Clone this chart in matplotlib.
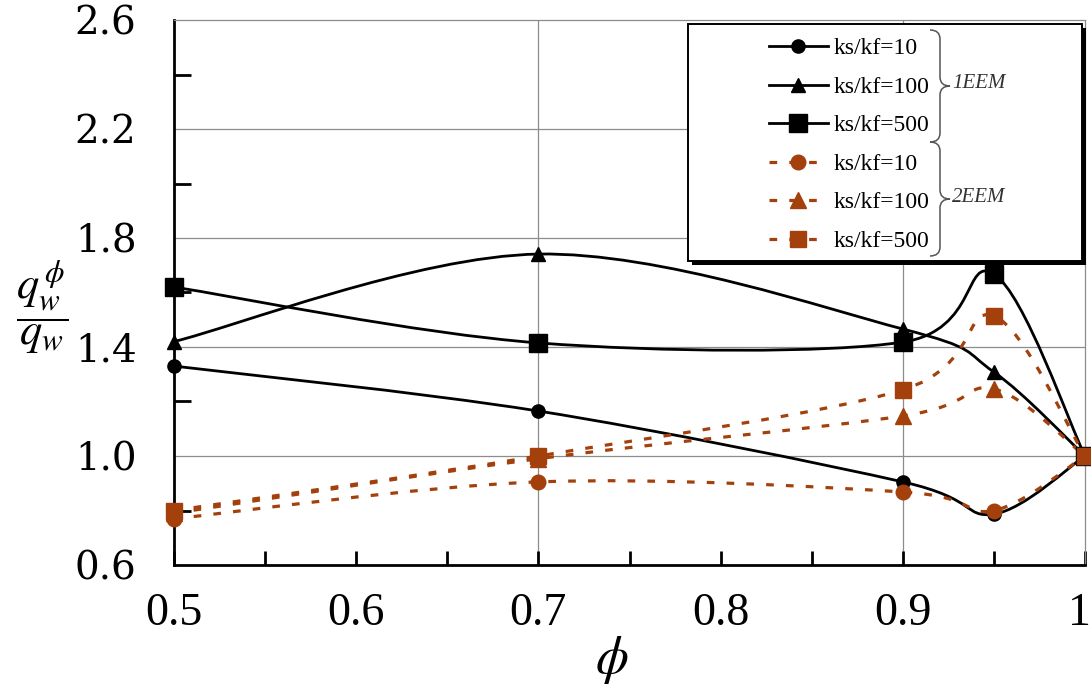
import numpy as np
import matplotlib
matplotlib.use("Agg")
import matplotlib.pyplot as plt
from matplotlib.path import Path
from matplotlib.patches import PathPatch, Rectangle
from matplotlib.lines import Line2D
from matplotlib.ticker import MultipleLocator, FixedLocator
from matplotlib.transforms import ScaledTranslation

# ---------------- data ----------------
phi = [0.5, 0.7, 0.9, 0.95, 1.0]
eem1_k10 = [1.33, 1.165, 0.905, 0.787, 1.0]
eem1_k100 = [1.42, 1.741, 1.466, 1.308, 1.0]
eem1_k500 = [1.62, 1.415, 1.418, 1.668, 1.0]
eem2_k10 = [0.77, 0.905, 0.868, 0.80, 1.0]
eem2_k100 = [0.79, 0.99, 1.147, 1.246, 1.0]
eem2_k500 = [0.80, 1.0, 1.243, 1.514, 1.0]
labels = ["ks/kf=10", "ks/kf=100", "ks/kf=500"]
group_labels = ["1EEM", "2EEM"]
x_ticks = [0.5, 0.6, 0.7, 0.8, 0.9, 1.0]
x_ticklabels = ["0.5", "0.6", "0.7", "0.8", "0.9", "1"]
y_ticks = [0.6, 1.0, 1.4, 1.8, 2.2, 2.6]
y_ticklabels = ["0.6", "1.0", "1.4", "1.8", "2.2", "2.6"]
x_grid = [0.7, 0.9]

W, H = 1091, 691
BROWN = "#a3400c"
plt.rcParams["mathtext.fontset"] = "stix"

fig = plt.figure(figsize=(W / 100, H / 100), dpi=100)
ax = fig.add_axes([174 / W, 1 - 565 / H, (1085 - 174) / W, (565 - 20) / H])
ax.set_xlim(0.5, 1.0)
ax.set_ylim(0.6, 2.6)


def smooth_path(xs, ys):
    """Excel-style smoothed line: cubic Bezier through the points."""
    P = np.column_stack([xs, ys]).astype(float)
    n = len(P)
    verts = [P[0]]
    codes = [Path.MOVETO]
    for i in range(n - 1):
        p_prev = P[i - 1] if i > 0 else P[i]
        p_next2 = P[i + 2] if i + 2 < n else P[i + 1]
        c1 = P[i] + (P[i + 1] - p_prev) / 6.0
        c2 = P[i + 1] - (p_next2 - P[i]) / 6.0
        verts += [c1, c2, P[i + 1]]
        codes += [Path.CURVE4] * 3
    return Path(verts, codes)


LW = 2.0
LWB = 2.3
dash = (0, (2.4, 3.8))
series = [
    (eem1_k10, "k", "o", 9.5, "-", LW),
    (eem1_k100, "k", "^", 10, "-", LW),
    (eem1_k500, "k", "s", 13, "-", LW),
    (eem2_k10, BROWN, "o", 10.5, dash, LWB),
    (eem2_k100, BROWN, "^", 11, dash, LWB),
    (eem2_k500, BROWN, "s", 11, dash, LWB),
]

handles = []
for ys, col, mk, ms, ls, lw in series:
    patch = PathPatch(smooth_path(phi, ys), fill=False, edgecolor=col,
                      linewidth=lw, linestyle=ls, zorder=3, clip_on=False)
    ax.add_patch(patch)
    ax.plot(phi, ys, linestyle="none", marker=mk, markersize=ms, color=col,
            markeredgecolor=col, zorder=4, clip_on=False)
    handles.append(Line2D([], [], color=col, linewidth=lw, linestyle=ls,
                          marker=mk, markersize=ms, markeredgecolor=col))

# grid
for yv in y_ticks[1:-1]:
    ax.axhline(yv, color="#8c8c8c", linewidth=0.9, zorder=1)
for xv in x_grid:
    ax.axvline(xv, color="#8c8c8c", linewidth=0.9, zorder=1)

# spines
for s in ["left", "bottom"]:
    ax.spines[s].set_linewidth(2.0)
    ax.spines[s].set_color("black")
for s in ["top", "right"]:
    ax.spines[s].set_linewidth(0.9)
    ax.spines[s].set_color("#8c8c8c")

# ticks
ax.xaxis.set_major_locator(FixedLocator(x_ticks))
ax.xaxis.set_minor_locator(MultipleLocator(0.05))
ax.set_xticklabels(x_ticklabels, fontfamily="Liberation Serif", fontsize=33)
ax.yaxis.set_major_locator(FixedLocator(y_ticks))
ax.yaxis.set_minor_locator(MultipleLocator(0.2))
ax.set_yticklabels(y_ticklabels, fontfamily="DejaVu Serif", fontsize=28)
ax.tick_params(axis="x", which="both", direction="in", length=10, width=2.0,
               pad=20, top=False)
ax.tick_params(axis="y", which="major", direction="in", length=0, pad=27)
ax.tick_params(axis="y", which="minor", direction="in", length=12, width=2.0)
last = ax.get_xticklabels()[-1]
last.set_transform(last.get_transform() +
                   ScaledTranslation(-6 / 100, 0, fig.dpi_scale_trans))

# axis labels
fig.text(42 / W, 1 - 307 / H, r"$\dfrac{q_w^{\,\phi}}{q_w}$", fontsize=32,
         ha="center", va="center")
fig.text(612 / W, 1 - 660 / H, r"$\phi$", fontsize=38, ha="center",
         va="center")

# legend box with shadow
shadow = Rectangle((692 / W, 1 - 265 / H), (1086 - 692) / W, (265 - 28) / H,
                   transform=fig.transFigure, facecolor="black",
                   edgecolor="none", zorder=3)
box = Rectangle((688 / W, 1 - 261 / H), (1082 - 688) / W, (261 - 24) / H,
                transform=fig.transFigure, facecolor="white",
                edgecolor="black", linewidth=1.4, zorder=3.5)
fig.patches.extend([shadow, box])

leg = fig.legend(handles, labels + labels, loc="upper left",
                 bbox_to_anchor=(757 / W, 1 - 26 / H), frameon=False,
                 borderpad=0, handlelength=2.5, handletextpad=0.25,
                 labelspacing=0.72,
                 prop={"family": "Liberation Serif", "size": 17})
leg.set_zorder(5)


def brace(x0, ytop, ybot, w):
    ym = (ytop + ybot) / 2.0
    xm = x0 + w * 0.5
    r = 9
    v = [(x0, ytop),
         (xm, ytop), (xm, ytop + r),
         (xm, ym - r),
         (xm, ym), (x0 + w, ym),
         (xm, ym), (xm, ym + r),
         (xm, ybot - r),
         (xm, ybot), (x0, ybot)]
    c = [Path.MOVETO,
         Path.CURVE3, Path.CURVE3,
         Path.LINETO,
         Path.CURVE3, Path.CURVE3,
         Path.CURVE3, Path.CURVE3,
         Path.LINETO,
         Path.CURVE3, Path.CURVE3]
    v = [(a / W, 1 - b / H) for a, b in v]
    p = PathPatch(Path(v, c), transform=fig.transFigure, fill=False,
                  edgecolor="#555555", linewidth=1.1, zorder=6)
    fig.patches.append(p)


brace(930, 30, 142, 20)
brace(930, 142, 256, 20)
fig.text(952 / W, 1 - 83 / H, group_labels[0], fontfamily="Liberation Serif",
         style="italic", fontsize=15, ha="left", va="center", zorder=6,
         color="#333333")
fig.text(952 / W, 1 - 198 / H, group_labels[1], fontfamily="Liberation Serif",
         style="italic", fontsize=15, ha="left", va="center", zorder=6,
         color="#333333")

fig.savefig("out.png", dpi=100)
